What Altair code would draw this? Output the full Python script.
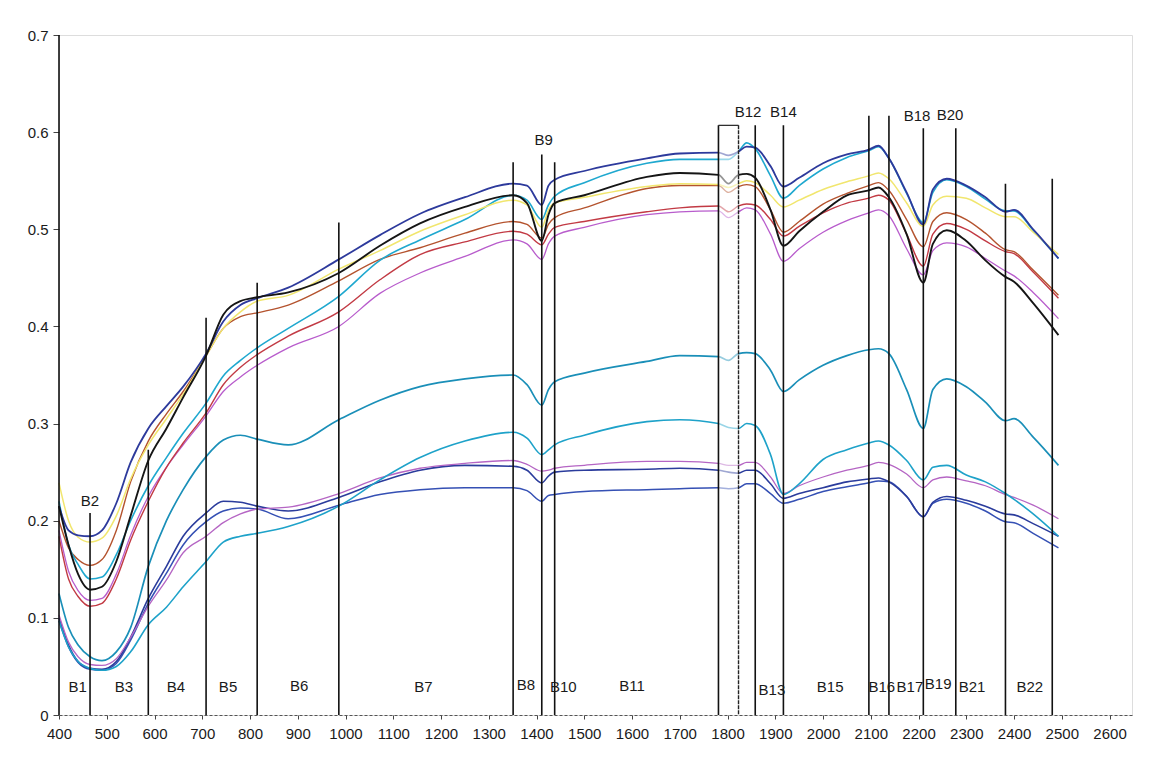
import altair as alt
import pandas as pd

# wavelength knots (nm)
wavelengths = [400, 420, 440, 465, 490, 520, 550, 587, 625, 660, 708, 744, 780, 815, 880, 986,
               1072, 1156, 1250, 1351, 1380, 1411, 1425, 1438, 1500, 1631, 1700, 1781, 1802, 1823,
               1840, 1858, 1890, 1917, 1950, 2000, 2050, 2096, 2116, 2138, 2175, 2210, 2230, 2259,
               2300, 2340, 2382, 2400, 2440, 2493]

s_db_top = [0.215, 0.190, 0.185, 0.184, 0.190, 0.218, 0.260, 0.295, 0.318, 0.338, 0.372, 0.405, 0.422, 0.429, 0.440, 0.469,
            0.494, 0.516, 0.533, 0.547, 0.545, 0.525, 0.545, 0.551, 0.560, 0.573, 0.578, 0.579, 0.576, 0.580,
            0.585, 0.584, 0.565, 0.544, 0.553, 0.568, 0.577, 0.582, 0.586, 0.573, 0.538, 0.505, 0.541, 0.552,
            0.545, 0.533, 0.518, 0.520, 0.500, 0.470]
s_yellow = [0.239, 0.200, 0.183, 0.178, 0.182, 0.205, 0.243, 0.278, 0.305, 0.330, 0.370, 0.398, 0.415, 0.426, 0.432, 0.459,
            0.478, 0.498, 0.515, 0.530, 0.525, 0.502, 0.520, 0.527, 0.533, 0.544, 0.547, 0.546, 0.543, 0.547,
            0.550, 0.548, 0.535, 0.523, 0.530, 0.541, 0.549, 0.555, 0.558, 0.552, 0.527, 0.503, 0.525, 0.534,
            0.532, 0.522, 0.513, 0.513, 0.497, 0.474]
s_black = [0.215, 0.175, 0.145, 0.129, 0.132, 0.158, 0.205, 0.262, 0.295, 0.327, 0.370, 0.412, 0.426, 0.430, 0.435, 0.455,
           0.483, 0.506, 0.523, 0.535, 0.527, 0.488, 0.515, 0.527, 0.535, 0.554, 0.558, 0.556, 0.547, 0.556,
           0.557, 0.553, 0.520, 0.483, 0.498, 0.518, 0.535, 0.540, 0.543, 0.533, 0.495, 0.445, 0.485, 0.499,
           0.488, 0.468, 0.451, 0.446, 0.424, 0.391]
s_cyan = [0.220, 0.175, 0.155, 0.140, 0.142, 0.165, 0.200, 0.236, 0.265, 0.290, 0.321, 0.349, 0.365, 0.378, 0.398, 0.431,
          0.468, 0.489, 0.510, 0.535, 0.530, 0.510, 0.525, 0.534, 0.548, 0.568, 0.572, 0.572, 0.572, 0.580,
          0.589, 0.583, 0.555, 0.532, 0.545, 0.562, 0.574, 0.581, 0.585, 0.573, 0.537, 0.507, 0.538, 0.551,
          0.544, 0.531, 0.519, 0.519, 0.499, 0.470]
s_brown = [0.200, 0.172, 0.160, 0.154, 0.160, 0.190, 0.240, 0.282, 0.310, 0.333, 0.370, 0.398, 0.410, 0.414, 0.422, 0.447,
           0.469, 0.481, 0.496, 0.508, 0.505, 0.491, 0.505, 0.512, 0.522, 0.542, 0.545, 0.545, 0.538, 0.544,
           0.546, 0.544, 0.520, 0.497, 0.508, 0.526, 0.537, 0.545, 0.548, 0.540, 0.510, 0.482, 0.508, 0.517,
           0.510, 0.496, 0.479, 0.477, 0.458, 0.432]
s_red = [0.184, 0.140, 0.122, 0.112, 0.115, 0.140, 0.180, 0.220, 0.255, 0.280, 0.311, 0.340, 0.358, 0.371, 0.390, 0.415,
         0.448, 0.474, 0.487, 0.498, 0.495, 0.484, 0.495, 0.502, 0.508, 0.518, 0.522, 0.524, 0.518, 0.524,
         0.526, 0.525, 0.510, 0.493, 0.503, 0.517, 0.527, 0.532, 0.535, 0.530, 0.495, 0.462, 0.495, 0.506,
         0.500, 0.488, 0.477, 0.475, 0.456, 0.429]
s_magenta = [0.190, 0.148, 0.128, 0.118, 0.120, 0.145, 0.185, 0.225, 0.255, 0.278, 0.308, 0.333, 0.348, 0.360, 0.378, 0.400,
             0.434, 0.455, 0.472, 0.489, 0.485, 0.469, 0.485, 0.493, 0.502, 0.515, 0.518, 0.519, 0.512, 0.518,
             0.522, 0.520, 0.495, 0.467, 0.480, 0.497, 0.509, 0.517, 0.520, 0.514, 0.480, 0.453, 0.478, 0.486,
             0.482, 0.470, 0.457, 0.452, 0.435, 0.408]
s_teal_mid = [0.125, 0.090, 0.072, 0.060, 0.056, 0.065, 0.090, 0.153, 0.200, 0.232, 0.266, 0.283, 0.288, 0.284, 0.278, 0.304,
              0.324, 0.338, 0.346, 0.350, 0.340, 0.319, 0.335, 0.343, 0.352, 0.364, 0.370, 0.369, 0.365, 0.372,
              0.373, 0.372, 0.355, 0.333, 0.345, 0.360, 0.370, 0.376, 0.377, 0.372, 0.335, 0.295, 0.335, 0.346,
              0.338, 0.322, 0.303, 0.305, 0.286, 0.257]
s_teal_low = [0.097, 0.070, 0.055, 0.048, 0.046, 0.050, 0.065, 0.093, 0.111, 0.132, 0.158, 0.178, 0.184, 0.187, 0.194, 0.215,
              0.242, 0.265, 0.282, 0.291, 0.285, 0.268, 0.273, 0.278, 0.288, 0.302, 0.304, 0.300, 0.296, 0.295,
              0.300, 0.298, 0.268, 0.227, 0.238, 0.263, 0.273, 0.280, 0.282, 0.278, 0.262, 0.242, 0.255, 0.257,
              0.247, 0.240, 0.228, 0.222, 0.207, 0.184]
s_magenta_low = [0.103, 0.075, 0.060, 0.052, 0.051, 0.058, 0.080, 0.112, 0.139, 0.167, 0.184, 0.198, 0.207, 0.212, 0.214, 0.228,
                 0.244, 0.254, 0.259, 0.262, 0.258, 0.251, 0.252, 0.254, 0.257, 0.261, 0.261, 0.259, 0.257, 0.257,
                 0.260, 0.260, 0.245, 0.228, 0.236, 0.245, 0.252, 0.257, 0.260, 0.258, 0.248, 0.234, 0.242, 0.245,
                 0.241, 0.236, 0.227, 0.224, 0.216, 0.202]
s_db_low1 = [0.100, 0.072, 0.055, 0.048, 0.047, 0.055, 0.080, 0.120, 0.153, 0.184, 0.208, 0.220, 0.219, 0.215, 0.210, 0.224,
             0.240, 0.252, 0.257, 0.256, 0.252, 0.239, 0.246, 0.250, 0.252, 0.253, 0.254, 0.252, 0.250, 0.249,
             0.252, 0.252, 0.238, 0.223, 0.228, 0.234, 0.240, 0.243, 0.244, 0.240, 0.225, 0.204, 0.219, 0.225,
             0.221, 0.215, 0.207, 0.206, 0.197, 0.184]
s_db_low2 = [0.097, 0.070, 0.054, 0.047, 0.046, 0.053, 0.077, 0.115, 0.146, 0.175, 0.199, 0.210, 0.213, 0.212, 0.202, 0.216,
             0.227, 0.232, 0.234, 0.234, 0.231, 0.220, 0.226, 0.227, 0.230, 0.232, 0.233, 0.234, 0.233, 0.234,
             0.238, 0.238, 0.228, 0.218, 0.222, 0.230, 0.235, 0.239, 0.241, 0.240, 0.225, 0.204, 0.218, 0.222,
             0.218, 0.210, 0.199, 0.198, 0.187, 0.172]

series_names = ["S12", "S11", "S10", "S9", "S8", "S7", "S6", "S5", "S4", "S3", "S2", "S1"]
series_values = [s_db_low2, s_db_low1, s_magenta_low, s_teal_low, s_teal_mid, s_magenta, s_red, s_brown,
                 s_cyan, s_yellow, s_db_top, s_black]
series_colors = ["#3550b4", "#2b3c9c", "#b565c4", "#1ea2c9", "#1a8fb8", "#b85ccc", "#c23a44", "#b4532e",
                 "#1fa8cf", "#f1e66e", "#2d3a9c", "#151515"]
series_width = [1.5, 1.6, 1.3, 1.6, 1.7, 1.3, 1.4, 1.4, 1.6, 1.5, 1.8, 1.9]

# band boundary lines
band_wl = [400, 465, 587, 708, 815, 986, 1351, 1411, 1438, 1781, 1858, 1917, 2096, 2138, 2210, 2278, 2382, 2480]
band_top = [0.70, 0.208, 0.273, 0.409, 0.445, 0.507, 0.569, 0.577, 0.569, 0.607, 0.607, 0.607, 0.617, 0.617,
            0.604, 0.604, 0.547, 0.552]
box_left, box_right, box_top = 1781, 1823, 0.607

# band labels
low_labels = ["B1", "B3", "B4", "B5", "B6", "B7", "B8", "B10", "B11", "B13", "B15", "B16", "B17", "B19", "B21", "B22"]
low_wl = [439, 536, 645, 754, 903, 1163, 1378, 1456, 1600, 1893, 2015, 2123, 2182, 2241, 2312, 2433]
low_y = [0.029, 0.029, 0.029, 0.029, 0.030, 0.029, 0.031, 0.029, 0.030, 0.026, 0.029, 0.029, 0.029, 0.032, 0.029, 0.029]
top_labels = ["B2", "B9", "B12", "B14", "B18", "B20"]
top_wl = [465, 1415, 1843, 1917, 2197, 2266]
top_y = [0.220, 0.592, 0.621, 0.621, 0.617, 0.618]

x_ticks = list(range(400, 2601, 100))
y_ticks = [0, 0.1, 0.2, 0.3, 0.4, 0.5, 0.6, 0.7]

rows = []
for name, vals, sw in zip(series_names, series_values, series_width):
    for w, v in zip(wavelengths, vals):
        rows.append({"series": name, "wl": w, "r": v, "sw": sw})
df = pd.DataFrame(rows)
df_band = pd.DataFrame({"wl": band_wl, "top": band_top})
df_box = pd.DataFrame({"x1": [box_left], "x2": [box_right], "top": [box_top]})
df_low = pd.DataFrame({"label": low_labels, "wl": low_wl, "y": low_y})
df_top = pd.DataFrame({"label": top_labels, "wl": top_wl, "y": top_y})

FONT = "Liberation Sans"
xscale = alt.Scale(domain=[400, 2647], nice=False, zero=False)
yscale = alt.Scale(domain=[0, 0.7], nice=False)
xaxis = alt.Axis(values=x_ticks, format="d", title=None, grid=False, labelFontSize=15, labelFont=FONT,
                 labelColor="#1a1a1a", tickColor="#444", tickSize=4, labelPadding=7,
                 domainColor="#555", domainDash=[3, 2], domainWidth=1, labelFlush=False)
yaxis = alt.Axis(values=y_ticks, title=None, grid=False, labelFontSize=15, labelFont=FONT,
                 labelColor="#1a1a1a", tickColor="#444", tickSize=6, labelPadding=5, domain=False,
                 labelExpr="datum.value == 0 ? '0' : format(datum.value, '.1f')")

lines = alt.Chart(df).mark_line(interpolate="monotone").encode(
    x=alt.X("wl:Q", scale=xscale, axis=xaxis),
    y=alt.Y("r:Q", scale=yscale, axis=yaxis),
    color=alt.Color("series:N", scale=alt.Scale(domain=series_names, range=series_colors), legend=None),
    strokeWidth=alt.StrokeWidth("sw:Q", scale=None),
    order=alt.Order("wl:Q"),
)

box_fill = alt.Chart(df_box).mark_rect(fill="white", opacity=0.55).encode(
    x=alt.X("x1:Q", scale=xscale), x2="x2:Q",
    y=alt.Y("top:Q", scale=yscale), y2=alt.datum(0),
)

bands = alt.Chart(df_band).mark_rule(color="#111", strokeWidth=1.6).encode(
    x=alt.X("wl:Q", scale=xscale),
    y=alt.Y("top:Q", scale=yscale),
    y2=alt.datum(0),
)
box_r = alt.Chart(df_box).mark_rule(color="#222", strokeWidth=1.4, strokeDash=[4, 1]).encode(
    x=alt.X("x2:Q", scale=xscale),
    y=alt.Y("top:Q", scale=yscale),
    y2=alt.datum(0),
)
box_t = alt.Chart(df_box).mark_rule(color="#222", strokeWidth=1.2).encode(
    x=alt.X("x1:Q", scale=xscale), x2="x2:Q",
    y=alt.Y("top:Q", scale=yscale),
)

low_text = alt.Chart(df_low).mark_text(font=FONT, fontSize=15, color="#1a1a1a", baseline="middle").encode(
    x=alt.X("wl:Q", scale=xscale), y=alt.Y("y:Q", scale=yscale), text="label:N")
top_text = alt.Chart(df_top).mark_text(font=FONT, fontSize=15, color="#1a1a1a", baseline="middle").encode(
    x=alt.X("wl:Q", scale=xscale), y=alt.Y("y:Q", scale=yscale), text="label:N")

chart = alt.layer(lines, box_fill, bands, box_r, box_t, low_text, top_text).properties(
    width=1073, height=680,
    autosize=alt.AutoSizeParams(type="none"),
    padding={"left": 51, "top": 27, "right": 8, "bottom": 30},
).configure_view(stroke="#777", strokeDash=[4, 2], strokeWidth=1).configure(background="white")

chart.save("out.html", embed_options={"renderer": "svg", "actions": False})
